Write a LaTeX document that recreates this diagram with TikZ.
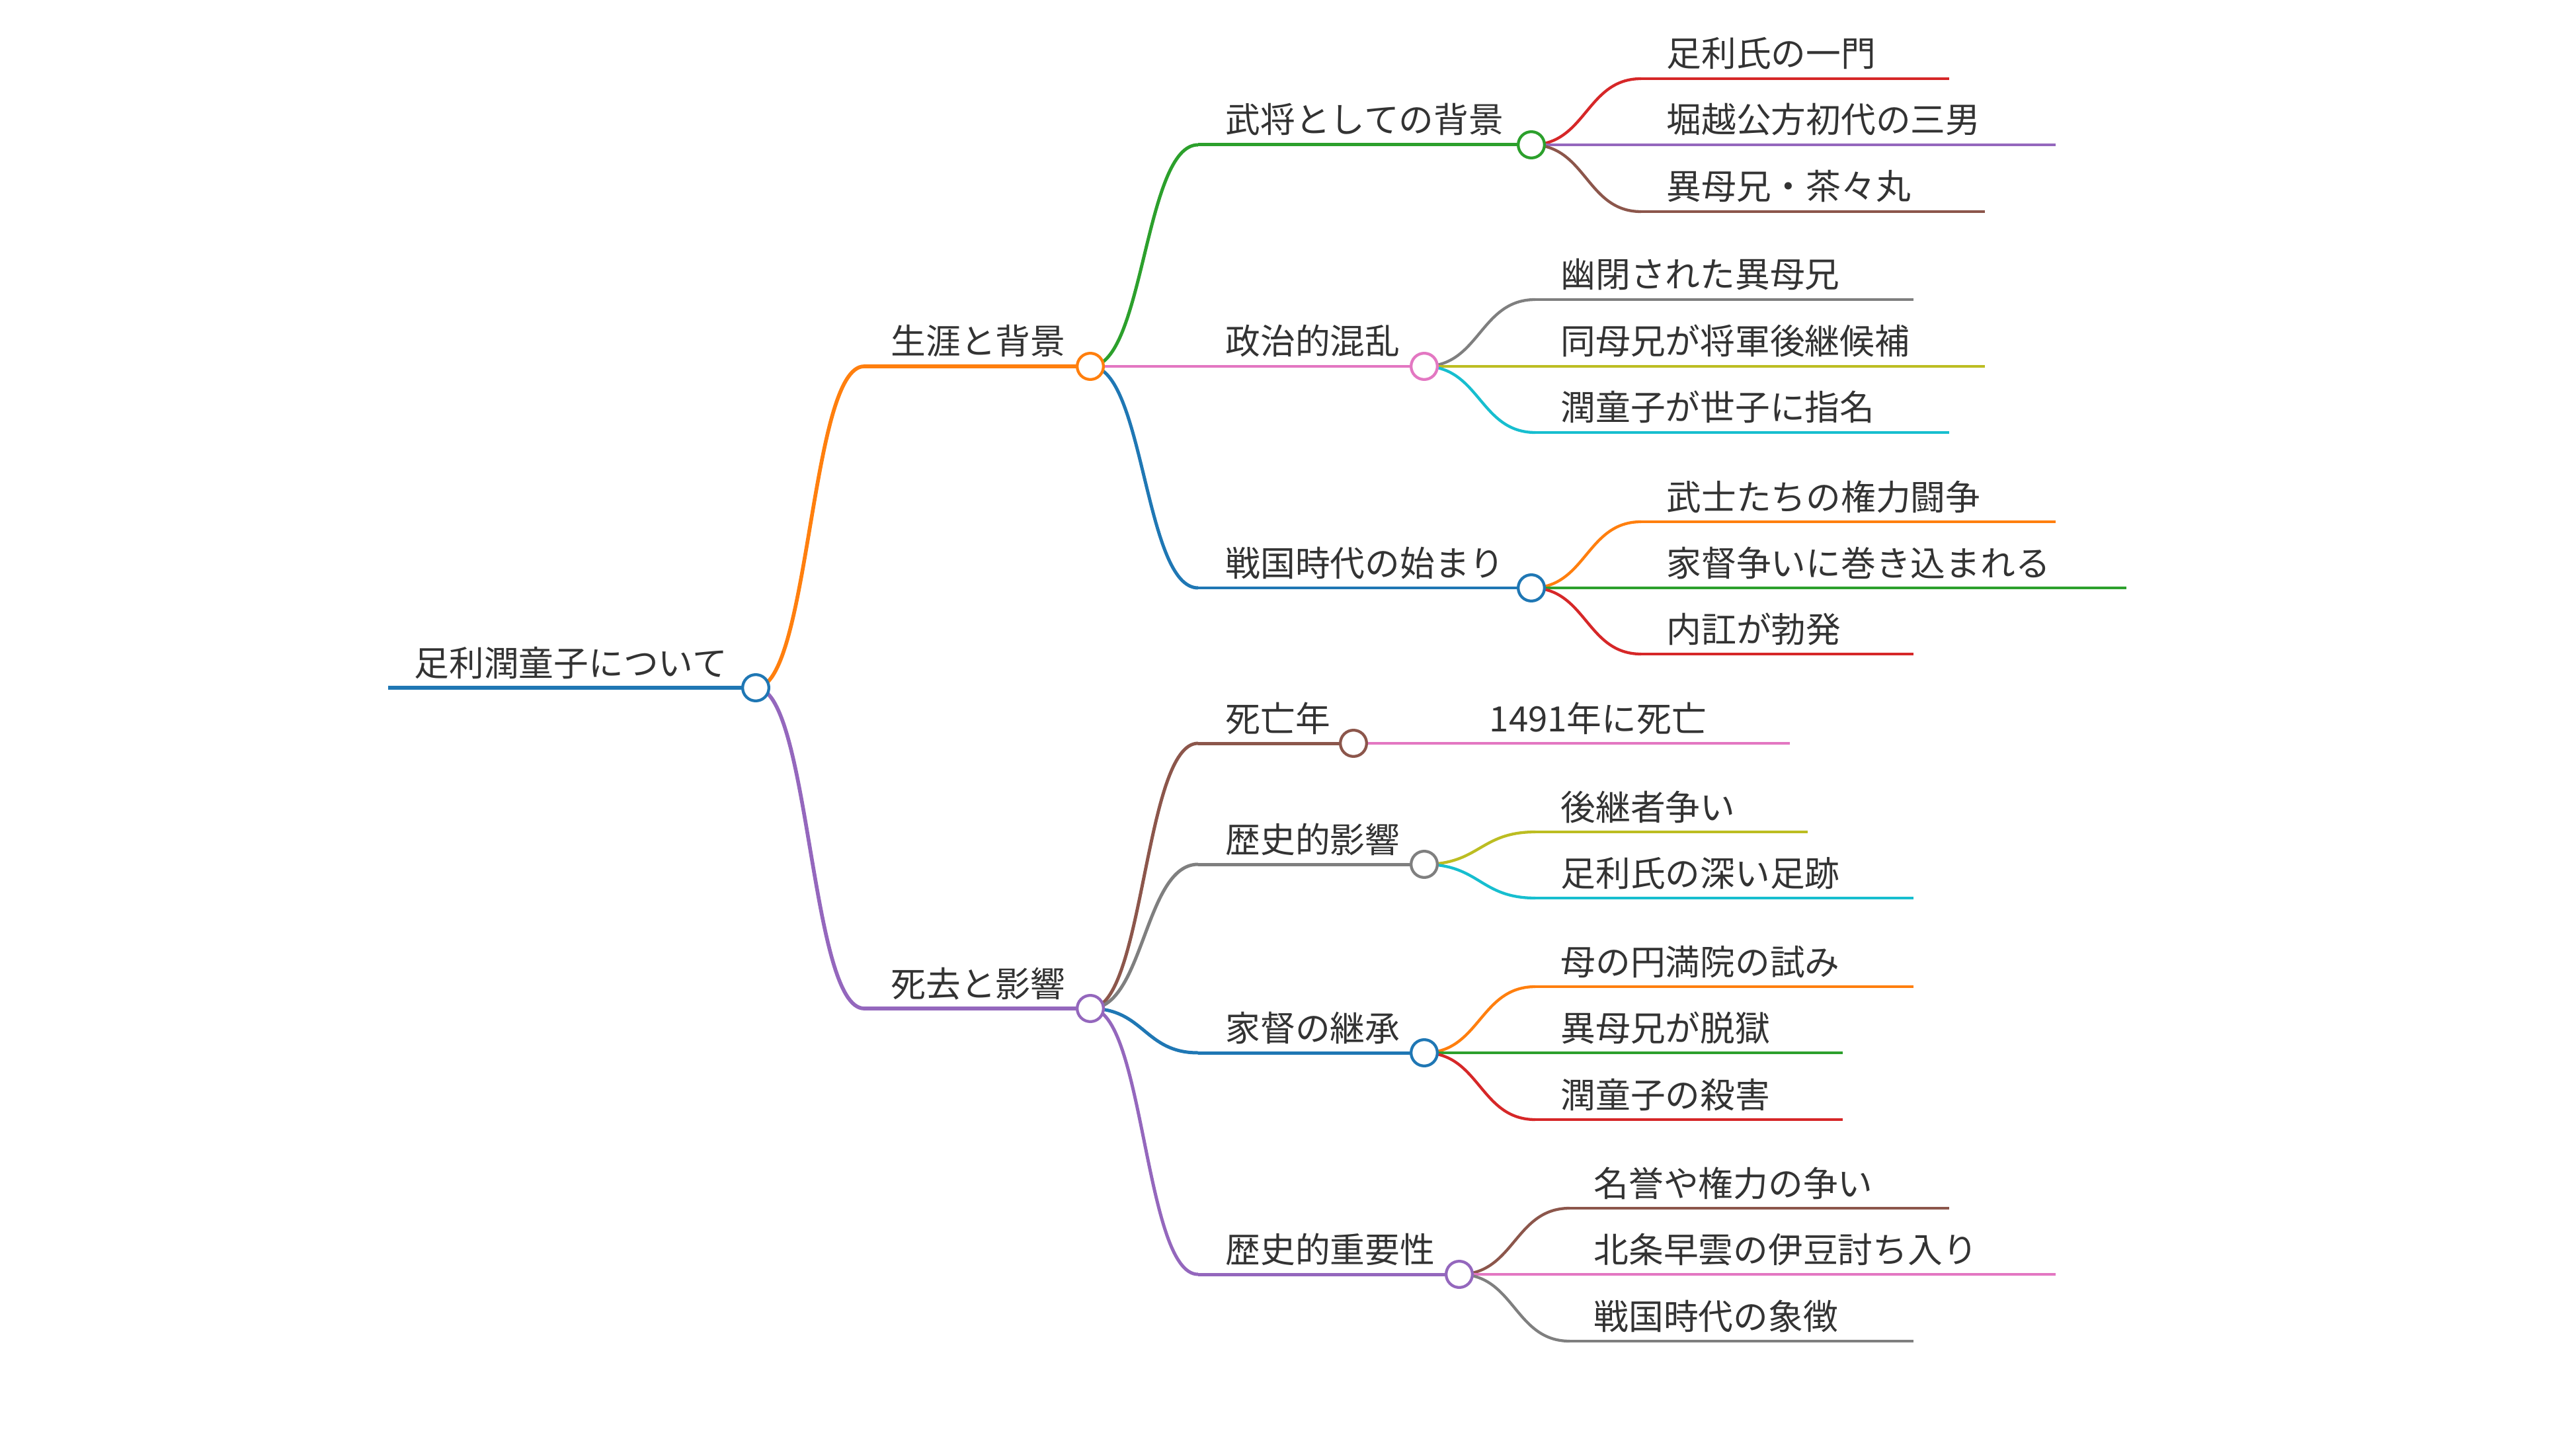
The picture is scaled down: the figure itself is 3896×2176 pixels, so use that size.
\documentclass[tikz,border=0pt]{standalone}
\usepackage{fontspec}
\usetikzlibrary{calc}
\newfontfamily\jp{Noto Sans CJK JP}
\definecolor{txt}{HTML}{333333}
\definecolor{mblue}{HTML}{1F77B4}
\definecolor{morange}{HTML}{FF7F0E}
\definecolor{mgreen}{HTML}{2CA02C}
\definecolor{mred}{HTML}{D62728}
\definecolor{mpurple}{HTML}{9467BD}
\definecolor{mbrown}{HTML}{8C564B}
\definecolor{mpink}{HTML}{E377C2}
\definecolor{mgray}{HTML}{7F7F7F}
\definecolor{molive}{HTML}{BCBD22}
\definecolor{mcyan}{HTML}{17BECF}
\newcommand\mmlink[3]{\draw[#3] let \p1=(#1.center), \p2=(#2.center) in (\p1) .. controls ({0.5*\x1+0.5*\x2},\y1) and ({0.5*\x1+0.5*\x2},\y2) .. (\p2);}
\tikzset{
  lbl/.style={anchor=base west, inner sep=0pt, text=txt, font={\jp\fontsize{15}{18}\selectfont}},
  dot/.style={circle, draw=#1, fill=white, line width=1.22pt, minimum size=0.397cm, inner sep=0pt},
  wa/.style={line width=1.85pt},
  wb/.style={line width=1.62pt},
  wc/.style={line width=1.42pt},
  wd/.style={line width=1.22pt},
}
\begin{document}
\begin{tikzpicture}[x=0.01cm, y=-0.01cm]
\useasboundingbox (0,0) rectangle (3896,2176);
% ---------- coordinates ----------
\coordinate (RS) at (587,1040);   \coordinate (RC) at (1143,1040);
\coordinate (AS) at (1307,554);   \coordinate (AC) at (1649,554);
\coordinate (BS) at (1307,1525);  \coordinate (BC) at (1649,1525);
\coordinate (A1S) at (1812,219);  \coordinate (A1C) at (2316,219);
\coordinate (A2S) at (1812,554);  \coordinate (A2C) at (2154,554);
\coordinate (A3S) at (1812,889);  \coordinate (A3C) at (2316,889);
\coordinate (B1S) at (1812,1124); \coordinate (B1C) at (2047,1124);
\coordinate (B2S) at (1812,1307); \coordinate (B2C) at (2154,1307);
\coordinate (B3S) at (1812,1592); \coordinate (B3C) at (2154,1592);
\coordinate (B4S) at (1812,1927); \coordinate (B4C) at (2207,1927);
% leaves
\coordinate (a11S) at (2482,119);  \coordinate (a11E) at (2948,119);
\coordinate (a12S) at (2482,219);  \coordinate (a12E) at (3109,219);
\coordinate (a13S) at (2482,320);  \coordinate (a13E) at (3002,320);
\coordinate (a21S) at (2322,453);  \coordinate (a21E) at (2894,453);
\coordinate (a22S) at (2322,554);  \coordinate (a22E) at (3002,554);
\coordinate (a23S) at (2322,654);  \coordinate (a23E) at (2948,654);
\coordinate (a31S) at (2482,789);  \coordinate (a31E) at (3109,789);
\coordinate (a32S) at (2482,889);  \coordinate (a32E) at (3216,889);
\coordinate (a33S) at (2482,989);  \coordinate (a33E) at (2894,989);
\coordinate (b11S) at (2214,1124); \coordinate (b11E) at (2707,1124);
\coordinate (b21S) at (2322,1258); \coordinate (b21E) at (2734,1258);
\coordinate (b22S) at (2322,1358); \coordinate (b22E) at (2894,1358);
\coordinate (b31S) at (2322,1492); \coordinate (b31E) at (2894,1492);
\coordinate (b32S) at (2322,1592); \coordinate (b32E) at (2787,1592);
\coordinate (b33S) at (2322,1693); \coordinate (b33E) at (2787,1693);
\coordinate (b41S) at (2374,1827); \coordinate (b41E) at (2948,1827);
\coordinate (b42S) at (2374,1927); \coordinate (b42E) at (3109,1927);
\coordinate (b43S) at (2374,2028); \coordinate (b43E) at (2894,2028);
% ---------- links ----------
\mmlink{RC}{AS}{morange,wb}
\mmlink{RC}{BS}{mpurple,wb}
\mmlink{AC}{A1S}{mgreen,wc}
\mmlink{AC}{A2S}{mpink,wc}
\mmlink{AC}{A3S}{mblue,wc}
\mmlink{BC}{B1S}{mbrown,wc}
\mmlink{BC}{B2S}{mgray,wc}
\mmlink{BC}{B3S}{mblue,wc}
\mmlink{BC}{B4S}{mpurple,wc}
\mmlink{A1C}{a11S}{mred,wd}
\mmlink{A1C}{a12S}{mpurple,wd}
\mmlink{A1C}{a13S}{mbrown,wd}
\mmlink{A2C}{a21S}{mgray,wd}
\mmlink{A2C}{a22S}{molive,wd}
\mmlink{A2C}{a23S}{mcyan,wd}
\mmlink{A3C}{a31S}{morange,wd}
\mmlink{A3C}{a32S}{mgreen,wd}
\mmlink{A3C}{a33S}{mred,wd}
\mmlink{B1C}{b11S}{mpink,wd}
\mmlink{B2C}{b21S}{molive,wd}
\mmlink{B2C}{b22S}{mcyan,wd}
\mmlink{B3C}{b31S}{morange,wd}
\mmlink{B3C}{b32S}{mgreen,wd}
\mmlink{B3C}{b33S}{mred,wd}
\mmlink{B4C}{b41S}{mbrown,wd}
\mmlink{B4C}{b42S}{mpink,wd}
\mmlink{B4C}{b43S}{mgray,wd}
% ---------- underlines ----------
\draw[mblue,wa] (RS) -- (RC);
\draw[morange,wb] (AS) -- (AC);
\draw[mpurple,wb] (BS) -- (BC);
\draw[mgreen,wc] (A1S) -- (A1C);
\draw[mpink,wc] (A2S) -- (A2C);
\draw[mblue,wc] (A3S) -- (A3C);
\draw[mbrown,wc] (B1S) -- (B1C);
\draw[mgray,wc] (B2S) -- (B2C);
\draw[mblue,wc] (B3S) -- (B3C);
\draw[mpurple,wc] (B4S) -- (B4C);
\draw[mred,wd] (a11S) -- (a11E);
\draw[mpurple,wd] (a12S) -- (a12E);
\draw[mbrown,wd] (a13S) -- (a13E);
\draw[mgray,wd] (a21S) -- (a21E);
\draw[molive,wd] (a22S) -- (a22E);
\draw[mcyan,wd] (a23S) -- (a23E);
\draw[morange,wd] (a31S) -- (a31E);
\draw[mgreen,wd] (a32S) -- (a32E);
\draw[mred,wd] (a33S) -- (a33E);
\draw[mpink,wd] (b11S) -- (b11E);
\draw[molive,wd] (b21S) -- (b21E);
\draw[mcyan,wd] (b22S) -- (b22E);
\draw[morange,wd] (b31S) -- (b31E);
\draw[mgreen,wd] (b32S) -- (b32E);
\draw[mred,wd] (b33S) -- (b33E);
\draw[mbrown,wd] (b41S) -- (b41E);
\draw[mpink,wd] (b42S) -- (b42E);
\draw[mgray,wd] (b43S) -- (b43E);
% ---------- circles ----------
\node[dot=mblue] (RD) at (RC) {};
\node[dot=morange] (AD) at (AC) {};
\node[dot=mpurple] (BD) at (BC) {};
\node[dot=mgreen] (A1D) at (A1C) {};
\node[dot=mpink] (A2D) at (A2C) {};
\node[dot=mblue] (A3D) at (A3C) {};
\node[dot=mbrown] (B1D) at (B1C) {};
\node[dot=mgray] (B2D) at (B2C) {};
\node[dot=mblue] (B3D) at (B3C) {};
\node[dot=mpurple] (B4D) at (B4C) {};
% ---------- labels ----------
\node[lbl] (RT) at (626,1022) {足利潤童子について};
\node[lbl] (AT) at (1347,536) {生涯と背景};
\node[lbl] (BT) at (1347,1507) {死去と影響};
\node[lbl] (A1T) at (1853,201) {武将としての背景};
\node[lbl] (A2T) at (1853,536) {政治的混乱};
\node[lbl] (A3T) at (1853,871) {戦国時代の始まり};
\node[lbl] (B1T) at (1853,1106) {死亡年};
\node[lbl] (B2T) at (1853,1289) {歴史的影響};
\node[lbl] (B3T) at (1853,1574) {家督の継承};
\node[lbl] (B4T) at (1853,1909) {歴史的重要性};
\node[lbl] (a11T) at (2520,101) {足利氏の一門};
\node[lbl] (a12T) at (2520,201) {堀越公方初代の三男};
\node[lbl] (a13T) at (2520,302) {異母兄・茶々丸};
\node[lbl] (a21T) at (2360,435) {幽閉された異母兄};
\node[lbl] (a22T) at (2360,536) {同母兄が将軍後継候補};
\node[lbl] (a23T) at (2360,636) {潤童子が世子に指名};
\node[lbl] (a31T) at (2520,771) {武士たちの権力闘争};
\node[lbl] (a32T) at (2520,871) {家督争いに巻き込まれる};
\node[lbl] (a33T) at (2520,971) {内訌が勃発};
\node[lbl] (b11T) at (2252,1106) {1491年に死亡};
\node[lbl] (b21T) at (2360,1240) {後継者争い};
\node[lbl] (b22T) at (2360,1340) {足利氏の深い足跡};
\node[lbl] (b31T) at (2360,1474) {母の円満院の試み};
\node[lbl] (b32T) at (2360,1574) {異母兄が脱獄};
\node[lbl] (b33T) at (2360,1675) {潤童子の殺害};
\node[lbl] (b41T) at (2410,1809) {名誉や権力の争い};
\node[lbl] (b42T) at (2410,1909) {北条早雲の伊豆討ち入り};
\node[lbl] (b43T) at (2410,2010) {戦国時代の象徴};
\end{tikzpicture}
\end{document}
